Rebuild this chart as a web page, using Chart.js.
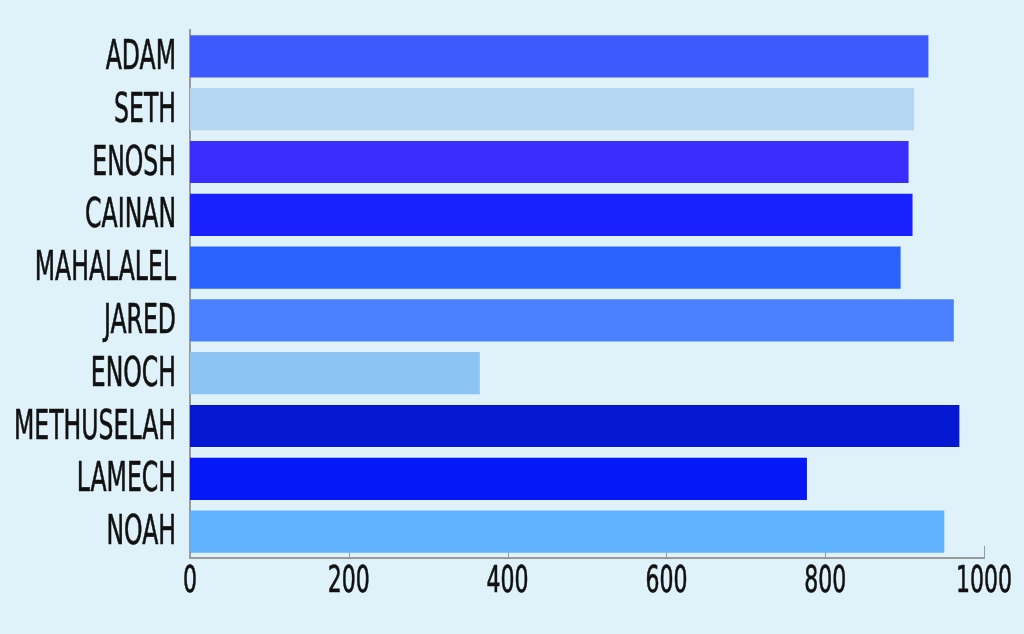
<!DOCTYPE html>
<html>
<head>
<meta charset="utf-8">
<script src="https://cdn.jsdelivr.net/npm/chart.js@4"></script>
<style>
  html, body { margin: 0; padding: 0; background: #dff1f9; }
  #wrap { width: 1024px; height: 634px; }
</style>
</head>
<body>
<div id="wrap"><canvas id="chart" width="1024" height="634"></canvas></div>
<script>
/* --------------- Data --------------------- */
const names = ["ADAM", "SETH", "ENOSH", "CAINAN", "MAHALALEL", "JARED", "ENOCH", "METHUSELAH", "LAMECH", "NOAH"];
const years = [930, 912, 905, 910, 895, 962, 365, 969, 777, 950];
const xTicks = [0, 200, 400, 600, 800, 1000];
const barColors = ["#3d5afe", "#b5d6f3", "#3b2cff", "#1a21ff", "#2962ff", "#4a80ff", "#8cc4f3", "#0418d2", "#0518f7", "#62b3ff"];

const labelFont = '"DejaVu Sans Condensed", "DejaVu Sans", sans-serif';

// draws the condensed labels ourselves (squeezed horizontally like the original)
const condensedLabels = {
  id: "condensedLabels",
  afterDraw(chart) {
    const ctx = chart.ctx;
    const xs = chart.scales.x, ys = chart.scales.y;
    ctx.save();
    ctx.fillStyle = "#111";
    ctx.strokeStyle = "#111";
    ctx.lineWidth = 0.6;
    ctx.textBaseline = "middle";
    // y labels - METHUSELAH is ~163px wide in the original
    ctx.font = "41px " + labelFont;
    ctx.textAlign = "right";
    let squeeze = 162 / ctx.measureText("METHUSELAH").width;
    names.forEach((n, i) => {
      const y = ys.getPixelForValue(i);
      ctx.save();
      ctx.translate(176, y + 2);
      ctx.scale(squeeze, 1);
      ctx.fillText(n, 0, 0);
      ctx.strokeText(n, 0, 0);
      ctx.restore();
    });
    // x labels - "1000" is ~57px wide
    ctx.font = "38px " + labelFont;
    ctx.textAlign = "center";
    squeeze = 56 / ctx.measureText("1000").width;
    xTicks.forEach(v => {
      const x = xs.getPixelForValue(v);
      ctx.save();
      ctx.translate(x, chart.chartArea.bottom + 24);
      ctx.scale(squeeze, 1);
      ctx.fillText(String(v), 0, 0);
      ctx.strokeText(String(v), 0, 0);
      ctx.restore();
    });
    // small inward ticks on x axis
    ctx.strokeStyle = "#9a9a9a";
    ctx.lineWidth = 1;
    xTicks.forEach(v => {
      const x = Math.round(xs.getPixelForValue(v)) + 0.5;
      ctx.beginPath();
      ctx.moveTo(x, chart.chartArea.bottom);
      ctx.lineTo(x, chart.chartArea.bottom - (v === 1000 ? 12 : 6));
      ctx.stroke();
    });
    ctx.restore();
  },
};

new Chart(document.getElementById("chart"), {
  type: "bar",
  plugins: [condensedLabels],
  data: {
    labels: names,
    datasets: [
      {
        data: years,
        backgroundColor: barColors,
        barPercentage: 0.8,
        categoryPercentage: 1.0,
      },
    ],
  },
  options: {
    indexAxis: "y",
    responsive: false,
    animation: false,
    layout: { padding: { top: 30, right: 40, bottom: 0, left: 0 } },
    plugins: { legend: { display: false }, tooltip: { enabled: false } },
    scales: {
      x: {
        min: 0,
        max: 1000,
        ticks: { display: false, stepSize: 200 },
        grid: { display: false },
        border: { display: true, color: "#9a9a9a", width: 2 },
        afterFit: (s) => { s.height = 76; },
      },
      y: {
        ticks: { display: false },
        grid: { display: false },
        border: { display: true, color: "#9a9a9a", width: 2 },
        afterFit: (s) => { s.width = 190; },
      },
    },
  },
});
</script>
</body>
</html>
